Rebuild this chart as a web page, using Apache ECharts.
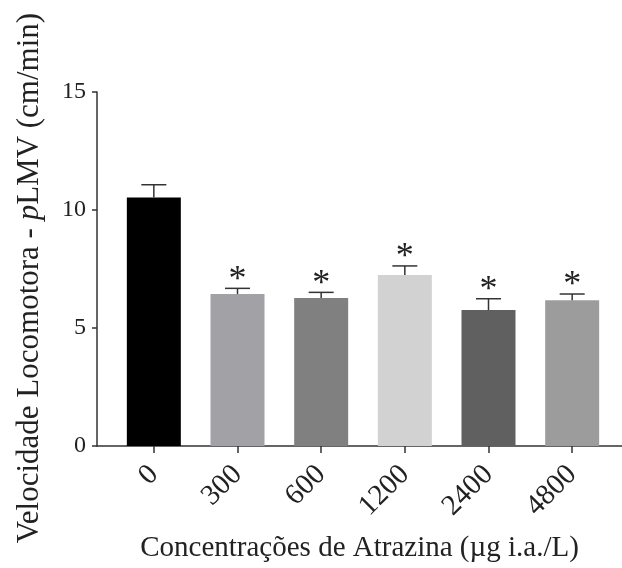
<!DOCTYPE html>
<html>
<head>
<meta charset="utf-8">
<script src="https://cdn.jsdelivr.net/npm/echarts@6/dist/echarts.min.js"></script>
<style>
  html, body { margin: 0; padding: 0; background: #fff; }
  #main { width: 622px; height: 568px; }
</style>
</head>
<body>
<div id="main"></div>
<script>
// concentracoes de atrazina
var categories = ['0', '300', '600', '1200', '2400', '4800'];
var means = [10.53, 6.44, 6.27, 7.25, 5.76, 6.18];
var sems = [0.54, 0.24, 0.24, 0.38, 0.48, 0.26];
var signif = [false, true, true, true, true, true];
var yTicks = [0, 5, 10, 15];

var barColors = ['#000000', '#a2a2a6', '#808080', '#d2d2d2', '#606060', '#9c9c9c'];
var font = 'Liberation Serif';

var myChart = echarts.init(document.getElementById('main'));

var barData = means.map(function (v, i) {
    return { value: v, itemStyle: { color: barColors[i] } };
});
var errData = means.map(function (v, i) {
    return [i, v, v + sems[i], signif[i] ? 1 : 0];
});

var option = {
    backgroundColor: '#fff',
    animation: false,
    grid: [
        { left: 97, right: 0, top: 92, bottom: 122 },
        { left: 112, right: 8, top: 92, bottom: 122 }
    ],
    xAxis: [{
        gridIndex: 0,
        type: 'value',
        min: 0,
        max: 1,
        axisLine: { show: true, lineStyle: { color: '#333', width: 1.5 } },
        axisTick: { show: false },
        axisLabel: { show: false },
        splitLine: { show: false },
        name: 'Concentrações de Atrazina (µg i.a./L)',
        nameLocation: 'middle',
        nameGap: 88,
        nameTextStyle: { fontFamily: font, fontSize: 29, color: '#222' }
    }, {
        gridIndex: 1,
        type: 'category',
        data: categories,
        axisLine: { show: false },
        axisTick: { show: true, alignWithLabel: true, length: 7, lineStyle: { color: '#333', width: 1.5 } },
        axisLabel: { rotate: 45, fontFamily: font, fontSize: 29, color: '#222', margin: 24 },
        splitLine: { show: false }
    }],
    yAxis: [{
        gridIndex: 0,
        type: 'value',
        min: yTicks[0],
        max: yTicks[yTicks.length - 1],
        interval: 5,
        axisLine: { show: true, lineStyle: { color: '#333', width: 1.5 } },
        axisTick: { show: true, length: 5, lineStyle: { color: '#333', width: 1.5 } },
        axisLabel: { fontFamily: font, fontSize: 24, color: '#222', margin: 11 },
        splitLine: { show: false },
        name: 'Velocidade Locomotora - {i|p}LMV (cm/min)',
        nameLocation: 'middle',
        nameGap: 52,
        nameTextStyle: {
            fontFamily: font, fontSize: 31, color: '#222',
            padding: [0, 18, 0, 0],
            rich: { i: { fontFamily: font, fontSize: 31, fontStyle: 'italic', color: '#222' } }
        }
    }, {
        gridIndex: 1,
        type: 'value',
        min: 0,
        max: 15,
        interval: 5,
        show: false
    }],
    series: [{
        type: 'bar',
        xAxisIndex: 1,
        yAxisIndex: 1,
        barWidth: 54,
        data: barData,
        z: 2
    }, {
        type: 'custom',
        xAxisIndex: 1,
        yAxisIndex: 1,
        data: errData,
        z: 3,
        renderItem: function (params, api) {
            var base = api.coord([api.value(0), api.value(1)]);
            var top = api.coord([api.value(0), api.value(2)]);
            var half = 12.5;
            var style = { stroke: '#333', lineWidth: 1.5 };
            var children = [
                { type: 'line', shape: { x1: top[0], y1: base[1], x2: top[0], y2: top[1] }, style: style },
                { type: 'line', shape: { x1: top[0] - half, y1: top[1], x2: top[0] + half, y2: top[1] }, style: style }
            ];
            if (api.value(3)) {
                children.push({
                    type: 'text',
                    style: {
                        text: '*', x: top[0], y: top[1] + 10,
                        textAlign: 'center', textVerticalAlign: 'bottom',
                        fontFamily: font, fontSize: 36, fill: '#222'
                    }
                });
            }
            return { type: 'group', children: children };
        }
    }]
};
myChart.setOption(option);
</script>
</body>
</html>
